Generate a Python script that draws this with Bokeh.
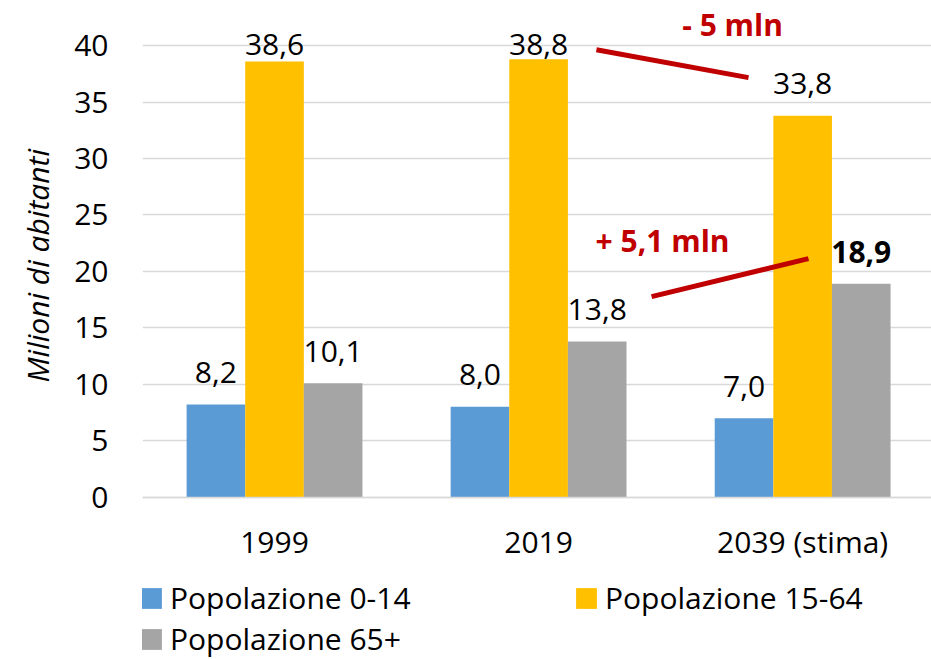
import numpy as np
from bokeh.plotting import figure
from bokeh.models import (Range1d, Legend, LegendItem, Label, ColumnDataSource,
                          FixedTicker, Title)
from bokeh.core.properties import value
from bokeh.embed import file_html
from bokeh.resources import INLINE

# ---------------- data ----------------
years = ["1999", "2019", "2039 (stima)"]
pop_0_14 = [8.2, 8.0, 7.0]
pop_15_64 = [38.6, 38.8, 33.8]
pop_65 = [10.1, 13.8, 18.9]
series_names = ["Popolazione 0-14", "Popolazione 15-64", "Popolazione 65+"]
label_styles = [["normal"] * 3, ["normal"] * 3, ["normal", "normal", "bold"]]
y_ticks = [0, 5, 10, 15, 20, 25, 30, 35, 40]
y_title = "Milioni di abitanti"

# annotation: change 2019 -> 2039
delta_texts = ["- 5 mln", "+ 5,1 mln"]

colors = ["#5B9BD5", "#FFC000", "#A5A5A5"]
RED = "#C00000"
FONT = "Open Sans"
FS = "30px"

x = np.arange(len(years), dtype=float)
bar_w = 0.222
offsets = [-bar_w, 0.0, bar_w]

p = figure(frame_width=789, frame_height=651,
           min_border_left=142, min_border_right=0, min_border_top=8,
           min_border_bottom=0,
           x_range=Range1d(-0.5, 2.488), y_range=Range1d(-14.38, 43.29),
           output_backend="svg", toolbar_location=None)
p.outline_line_color = None
p.background_fill_color = "white"
p.border_fill_color = "white"

renderers = []
for vals, off, col, styles in zip([pop_0_14, pop_15_64, pop_65], offsets, colors, label_styles):
    vals = np.array(vals)
    src = ColumnDataSource(dict(
        x=x + off, top=vals,
        label=[f"{v:.1f}".replace(".", ",") for v in vals],
        ly=np.minimum(vals, 37.25),
        style=styles,
    ))
    r = p.vbar(x="x", top="top", bottom=0, width=bar_w, source=src,
               fill_color=col, line_color=None)
    renderers.append(r)
    p.text(x="x", y="ly", text="label", source=src,
           text_align="center", text_baseline="alphabetic", y_offset=-32,
           text_font=value(FONT), text_font_size=FS,
           text_font_style="style", text_color="black")

# trend lines (annotation positions)
seg_x0 = [1.219, 1.428]
seg_y0 = [39.64, 17.76]
seg_x1 = [1.795, 2.022]
seg_y1 = [37.17, 21.13]
p.segment(x0=seg_x0, y0=seg_y0, x1=seg_x1, y1=seg_y1,
          line_color=RED, line_width=5)

text_pos = [(1.544, 40.9), (1.216, 21.76)]
for (tx, ty), t in zip(text_pos, delta_texts):
    p.add_layout(Label(x=tx, y=ty, text=t, text_font=FONT, text_font_size=FS,
                       text_font_style="bold", text_color=RED, y_offset=11,
                       text_baseline="alphabetic", text_align="left"))

# axes
p.yaxis.ticker = FixedTicker(ticks=y_ticks)
p.yaxis.axis_line_color = None
p.yaxis.major_tick_line_color = None
p.yaxis.minor_tick_line_color = None
p.yaxis.major_tick_out = 0
p.yaxis.major_label_text_font = FONT
p.yaxis.major_label_text_font_size = FS
p.yaxis.major_label_text_color = "black"
p.yaxis.major_label_standoff = 34

# y-axis title, placed along the 0..40 part of the frame
p.add_layout(Title(text=y_title, align="left", offset=277, standoff=28,
                   text_font=FONT, text_font_size="30px",
                   text_font_style="italic", text_color="black"), "left")

p.xaxis.fixed_location = 0
p.xaxis.ticker = FixedTicker(ticks=list(x))
p.xaxis.major_label_overrides = {int(i): y for i, y in zip(x, years)}
p.xaxis.axis_line_color = "#D9D9D9"
p.xaxis.axis_line_width = 1.5
p.xaxis.major_tick_line_color = None
p.xaxis.minor_tick_line_color = None
p.xaxis.major_tick_out = 0
p.xaxis.major_label_text_font = FONT
p.xaxis.major_label_text_font_size = FS
p.xaxis.major_label_text_color = "black"
p.xaxis.major_label_standoff = 24

p.xgrid.visible = False
p.ygrid.grid_line_color = "#D9D9D9"
p.ygrid.grid_line_width = 1.5

legend = Legend(items=[LegendItem(label=n, renderers=[r]) for n, r in zip(series_names, renderers)],
                ncols=2, orientation="horizontal",
                glyph_width=26, glyph_height=26, label_standoff=6,
                label_width=403, spacing=0,
                label_text_font=FONT, label_text_font_size=FS,
                label_text_color="black", padding=0, margin=0,
                border_line_color=None, background_fill_alpha=0,
                location=(-4, 0))
p.add_layout(legend)

open("out.html", "w").write(file_html(p, INLINE))
